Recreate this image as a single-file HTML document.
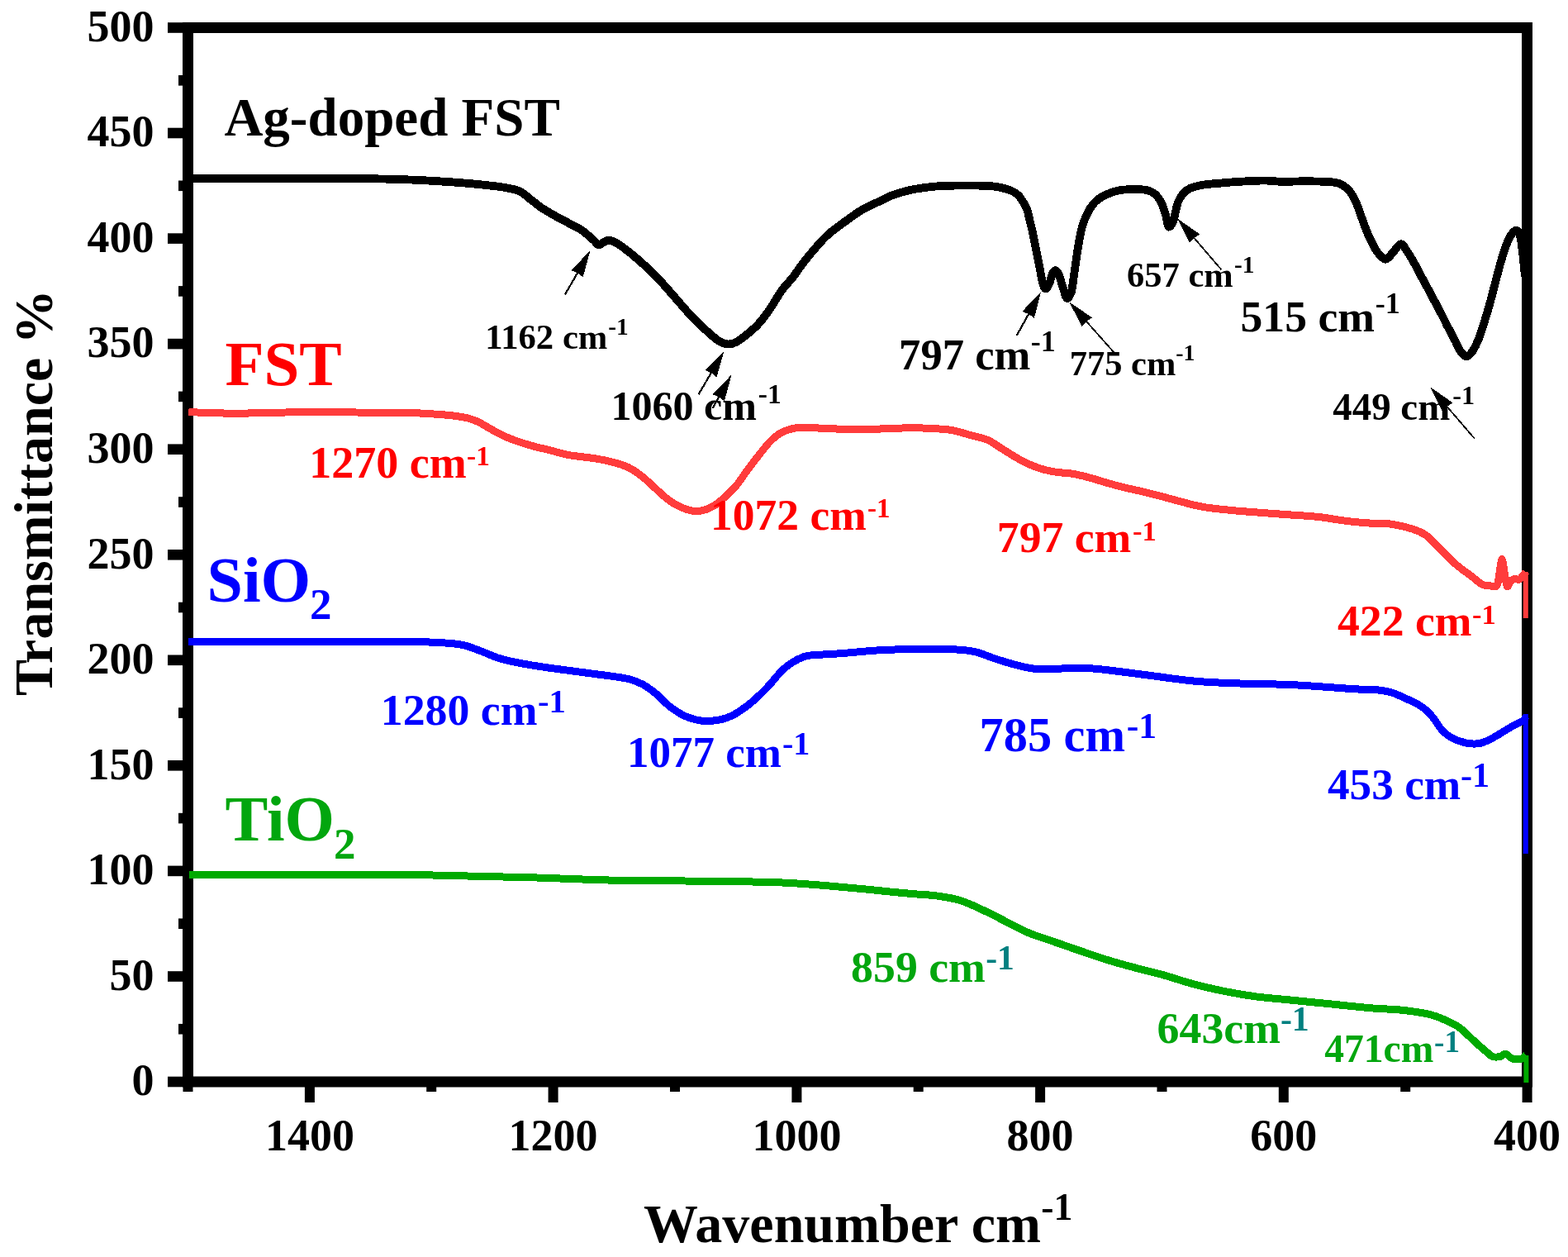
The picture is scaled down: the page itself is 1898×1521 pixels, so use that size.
<!DOCTYPE html><html><head><meta charset="utf-8"><title>FTIR spectra</title><style>html,body{margin:0;padding:0;background:#fff;}svg{display:block;}</style></head><body>
<svg width="1898" height="1521" viewBox="0 0 1898 1521">
<rect x="0" y="0" width="1898" height="1521" fill="#fff"/>
<g fill="#000"><rect x="203" y="1302.7" width="20" height="12.6"/><rect x="203" y="1175.2" width="20" height="12.6"/><rect x="203" y="1047.6" width="20" height="12.6"/><rect x="203" y="920.0" width="20" height="12.6"/><rect x="203" y="792.5" width="20" height="12.6"/><rect x="203" y="665.0" width="20" height="12.6"/><rect x="203" y="537.4" width="20" height="12.6"/><rect x="203" y="409.8" width="20" height="12.6"/><rect x="203" y="282.3" width="20" height="12.6"/><rect x="203" y="154.7" width="20" height="12.6"/><rect x="203" y="27.2" width="20" height="12.6"/><rect x="216" y="1238.9" width="7" height="12.6"/><rect x="216" y="1111.4" width="7" height="12.6"/><rect x="216" y="983.8" width="7" height="12.6"/><rect x="216" y="856.3" width="7" height="12.6"/><rect x="216" y="728.7" width="7" height="12.6"/><rect x="216" y="601.2" width="7" height="12.6"/><rect x="216" y="473.6" width="7" height="12.6"/><rect x="216" y="346.1" width="7" height="12.6"/><rect x="216" y="218.5" width="7" height="12.6"/><rect x="216" y="91.0" width="7" height="12.6"/><rect x="1842.6" y="1313" width="12" height="21"/><rect x="1547.8" y="1313" width="12" height="21"/><rect x="1253.1" y="1313" width="12" height="21"/><rect x="958.4" y="1313" width="12" height="21"/><rect x="663.6" y="1313" width="12" height="21"/><rect x="368.9" y="1313" width="12" height="21"/><rect x="1695.2" y="1313" width="12" height="8"/><rect x="1400.5" y="1313" width="12" height="8"/><rect x="1105.7" y="1313" width="12" height="8"/><rect x="811.0" y="1313" width="12" height="8"/><rect x="516.2" y="1313" width="12" height="8"/><rect x="221.5" y="1313" width="12" height="8"/></g>
<rect x="227.5" y="33.5" width="1621" height="1275.5" fill="none" stroke="#000" stroke-width="13"/>
<g font-family="'Liberation Serif', serif" font-weight="bold" font-size="54" fill="#000"><text x="186.4" y="1325.3" text-anchor="end">0</text><text x="186.4" y="1197.8" text-anchor="end">50</text><text x="186.4" y="1070.2" text-anchor="end">100</text><text x="186.4" y="942.6" text-anchor="end">150</text><text x="186.4" y="815.1" text-anchor="end">200</text><text x="186.4" y="687.5" text-anchor="end">250</text><text x="186.4" y="560.0" text-anchor="end">300</text><text x="186.4" y="432.4" text-anchor="end">350</text><text x="186.4" y="304.9" text-anchor="end">400</text><text x="186.4" y="177.3" text-anchor="end">450</text><text x="186.4" y="49.8" text-anchor="end">500</text><text x="1848.6" y="1391.5" text-anchor="middle">400</text><text x="1553.8" y="1391.5" text-anchor="middle">600</text><text x="1259.1" y="1391.5" text-anchor="middle">800</text><text x="964.4" y="1391.5" text-anchor="middle">1000</text><text x="669.6" y="1391.5" text-anchor="middle">1200</text><text x="374.9" y="1391.5" text-anchor="middle">1400</text></g>
<path d="M228.0,216.4 C245.0,216.4 296.3,216.3 330.0,216.2 C363.7,216.1 402.7,215.8 430.0,216.0 C457.3,216.2 472.8,216.6 494.0,217.4 C515.2,218.2 539.3,219.8 557.0,221.1 C574.7,222.4 590.2,224.2 600.0,225.3 C609.8,226.4 610.9,226.9 615.8,227.9 C620.7,228.9 625.1,229.4 629.5,231.6 C633.9,233.8 637.7,237.8 642.1,241.1 C646.5,244.4 650.5,248.1 655.8,251.6 C661.1,255.1 668.2,259.0 673.8,262.2 C679.4,265.4 684.7,268.0 689.6,270.6 C694.5,273.2 699.3,275.4 703.3,278.0 C707.3,280.6 711.0,284.1 713.8,286.4 C716.6,288.7 718.2,290.3 720.0,292.0 C721.8,293.7 722.7,296.1 724.3,296.4 C725.9,296.7 727.5,294.8 729.6,293.8 C731.7,292.8 734.0,290.4 737.0,290.6 C740.0,290.8 743.1,292.2 747.5,294.8 C751.9,297.4 758.0,302.2 763.3,306.4 C768.6,310.6 775.3,316.8 779.1,320.1 C782.9,323.5 783.0,323.6 786.0,326.5 C789.0,329.4 792.2,332.2 797.0,337.3 C801.8,342.4 809.4,351.2 814.8,357.4 C820.2,363.6 824.8,369.0 829.5,374.3 C834.2,379.6 838.6,384.4 843.2,389.0 C847.8,393.6 852.5,397.8 856.9,401.7 C861.3,405.6 865.7,409.8 869.6,412.2 C873.5,414.6 876.6,416.0 880.1,416.4 C883.6,416.8 887.1,415.9 890.6,414.3 C894.1,412.7 896.8,410.4 901.2,406.9 C905.6,403.4 911.9,398.6 917.0,393.2 C922.1,387.8 926.8,381.3 931.7,374.3 C936.6,367.3 941.9,357.4 946.5,351.1 C951.1,344.8 955.5,340.8 959.1,336.3 C962.7,331.8 964.7,328.4 968.0,324.0 C971.3,319.6 973.7,315.9 979.0,309.6 C984.3,303.3 993.0,292.7 1000.0,286.0 C1007.0,279.3 1014.0,274.7 1021.0,269.5 C1028.0,264.3 1035.0,259.0 1042.0,254.8 C1049.0,250.6 1056.7,247.4 1063.0,244.3 C1069.3,241.2 1074.0,238.6 1080.0,236.3 C1086.0,234.0 1092.7,232.1 1099.0,230.6 C1105.3,229.1 1111.7,228.1 1118.0,227.2 C1124.3,226.3 1130.7,225.6 1137.0,225.2 C1143.3,224.8 1148.0,224.7 1155.9,224.6 C1163.8,224.5 1176.5,224.4 1184.4,224.6 C1192.3,224.8 1197.8,224.9 1203.3,225.6 C1208.8,226.2 1213.6,227.4 1217.6,228.5 C1221.6,229.6 1224.3,230.6 1227.1,232.3 C1229.9,234.0 1232.0,235.1 1234.6,238.5 C1237.2,241.9 1240.7,247.7 1242.7,252.5 C1244.7,257.3 1245.3,262.0 1246.6,267.3 C1247.9,272.6 1249.3,278.0 1250.6,284.1 C1251.9,290.2 1253.2,297.2 1254.5,303.8 C1255.8,310.4 1257.3,317.6 1258.5,323.5 C1259.7,329.4 1260.2,335.2 1261.4,339.5 C1262.6,343.8 1263.9,349.0 1265.4,349.5 C1266.9,350.0 1268.8,345.7 1270.3,342.5 C1271.8,339.3 1272.9,333.0 1274.2,330.5 C1275.5,328.0 1276.9,327.0 1278.2,327.5 C1279.5,328.0 1280.6,329.7 1282.1,333.4 C1283.6,337.1 1285.5,344.9 1287.1,349.5 C1288.7,354.1 1289.9,360.4 1291.5,361.0 C1293.1,361.6 1295.5,357.6 1296.9,353.0 C1298.3,348.4 1298.9,339.9 1299.9,333.4 C1300.9,326.8 1301.8,320.3 1302.8,313.7 C1303.8,307.1 1304.6,300.4 1305.8,294.0 C1307.0,287.6 1308.2,280.6 1309.7,275.2 C1311.2,269.8 1312.9,265.5 1314.7,261.4 C1316.5,257.3 1318.3,253.9 1320.6,250.6 C1322.9,247.3 1325.2,244.3 1328.5,241.7 C1331.8,239.1 1335.9,236.8 1340.5,234.8 C1345.1,232.9 1351.0,230.9 1356.3,230.0 C1361.6,229.1 1366.8,229.3 1372.1,229.3 C1377.4,229.3 1383.6,229.0 1388.0,230.0 C1392.4,231.0 1395.5,232.7 1398.5,235.3 C1401.5,237.9 1403.8,241.6 1405.9,245.8 C1408.0,250.0 1409.7,255.9 1411.1,260.6 C1412.5,265.4 1412.9,272.9 1414.3,274.3 C1415.7,275.7 1418.2,271.8 1419.6,269.0 C1421.0,266.2 1421.7,261.4 1422.7,257.4 C1423.8,253.4 1424.3,248.7 1425.9,244.8 C1427.5,240.9 1429.8,237.0 1432.2,234.2 C1434.7,231.4 1436.6,229.7 1440.6,227.9 C1444.6,226.2 1450.2,224.8 1456.4,223.7 C1462.6,222.6 1470.5,222.2 1477.5,221.6 C1484.5,221.0 1489.8,220.4 1498.6,219.9 C1507.3,219.4 1521.2,218.5 1530.0,218.5 C1538.8,218.5 1542.7,219.7 1551.6,219.8 C1560.5,219.9 1572.7,219.2 1583.2,219.3 C1593.7,219.4 1607.8,219.8 1614.8,220.6 C1621.8,221.4 1622.2,222.4 1625.4,224.2 C1628.6,226.0 1631.2,228.2 1633.8,231.6 C1636.4,234.9 1638.9,239.4 1641.2,244.3 C1643.5,249.2 1645.6,255.8 1647.5,261.1 C1649.4,266.4 1650.9,271.0 1652.8,275.9 C1654.7,280.8 1656.6,285.7 1659.1,290.6 C1661.5,295.5 1664.5,301.5 1667.5,305.4 C1670.5,309.3 1674.0,313.6 1677.0,313.8 C1680.0,314.0 1682.3,309.5 1685.4,306.4 C1688.5,303.3 1692.6,295.9 1695.5,295.3 C1698.4,294.8 1700.0,299.5 1702.6,303.1 C1705.2,306.7 1708.2,311.9 1711.0,316.8 C1713.8,321.7 1716.6,327.4 1719.4,332.6 C1722.2,337.9 1725.1,343.1 1727.9,348.3 C1730.7,353.6 1733.5,358.8 1736.3,364.1 C1739.1,369.4 1741.9,374.5 1744.7,379.9 C1747.5,385.3 1750.3,391.3 1753.1,396.7 C1755.9,402.1 1759.0,407.8 1761.5,412.5 C1764.0,417.2 1765.5,422.0 1767.8,425.1 C1770.1,428.2 1772.8,431.2 1775.2,431.2 C1777.6,431.2 1780.0,428.4 1782.4,424.9 C1784.9,421.3 1787.4,416.1 1789.9,409.9 C1792.4,403.6 1795.1,394.7 1797.4,387.4 C1799.7,380.1 1801.6,373.7 1803.7,366.2 C1805.8,358.7 1807.8,350.3 1809.9,342.4 C1812.0,334.5 1814.1,326.0 1816.2,318.7 C1818.3,311.4 1820.3,304.3 1822.4,298.7 C1824.5,293.1 1826.6,288.3 1828.7,285.0 C1830.8,281.7 1833.0,278.7 1834.9,278.7 C1836.8,278.7 1838.6,280.6 1839.9,285.0 C1841.2,289.4 1842.0,296.7 1843.0,305.0 C1844.0,313.3 1845.5,330.0 1846.0,335.0" stroke="#000" fill="none" stroke-width="9.8" stroke-linejoin="round" stroke-linecap="butt" shape-rendering="crispEdges"/>
<path d="M228.4,498.6 C237.5,498.9 263.5,500.1 283.2,500.2 C302.9,500.3 321.9,499.2 346.5,499.0 C371.1,498.8 406.1,498.9 430.7,499.0 C455.3,499.1 479.1,499.2 494.0,499.5 C508.9,499.8 513.0,500.3 520.0,500.7 C527.0,501.1 530.5,501.4 535.8,501.8 C541.1,502.2 546.3,502.6 551.6,503.4 C556.9,504.1 562.8,505.1 567.4,506.3 C572.0,507.5 574.6,508.5 579.0,510.6 C583.4,512.7 588.7,516.2 593.8,519.0 C598.9,521.8 604.3,524.9 609.6,527.4 C614.9,529.9 619.3,531.6 625.4,533.7 C631.5,535.8 639.4,538.2 646.4,540.1 C653.4,542.0 660.5,543.5 667.5,545.3 C674.5,547.0 679.9,549.0 688.6,550.6 C697.4,552.2 711.4,553.4 720.0,554.8 C728.6,556.2 733.6,557.1 740.5,558.9 C747.4,560.7 754.9,562.8 761.1,565.8 C767.3,568.8 772.5,572.8 777.5,576.7 C782.5,580.6 786.6,584.9 791.2,589.0 C795.8,593.1 800.3,597.7 804.9,601.4 C809.5,605.1 813.4,608.3 818.6,611.0 C823.9,613.7 831.1,616.7 836.4,617.8 C841.6,618.9 845.5,618.7 850.1,617.8 C854.7,616.9 859.2,615.0 863.8,612.3 C868.4,609.6 872.9,605.5 877.5,601.4 C882.1,597.3 886.6,593.2 891.2,587.7 C895.8,582.2 900.3,574.7 904.9,568.5 C909.5,562.3 914.0,556.4 918.6,550.7 C923.2,545.0 927.7,538.8 932.3,534.2 C936.9,529.6 940.8,526.0 946.0,523.3 C951.2,520.6 958.1,518.8 963.8,517.8 C969.5,516.8 974.0,517.2 980.0,517.3 C986.0,517.4 988.9,518.2 1000.0,518.6 C1011.1,519.0 1029.7,519.6 1046.4,519.5 C1063.1,519.4 1086.5,518.0 1100.0,517.8 C1113.5,517.6 1118.7,518.0 1127.4,518.5 C1136.1,519.0 1144.0,519.1 1152.0,520.5 C1160.0,521.9 1168.4,524.9 1175.3,526.7 C1182.2,528.5 1188.8,530.0 1193.2,531.5 C1197.6,533.0 1197.5,533.3 1201.4,535.6 C1205.3,537.9 1210.5,541.6 1216.4,545.2 C1222.3,548.9 1230.2,554.0 1237.0,557.5 C1243.8,561.0 1250.7,564.1 1257.5,566.4 C1264.3,568.7 1271.2,570.1 1278.1,571.2 C1284.9,572.4 1291.8,572.1 1298.6,573.3 C1305.4,574.4 1312.3,576.3 1319.2,578.1 C1326.1,579.9 1332.9,582.3 1339.7,584.2 C1346.5,586.1 1352.5,587.9 1360.0,589.7 C1367.5,591.6 1376.6,593.3 1385.0,595.3 C1393.4,597.3 1402.3,599.7 1410.6,601.9 C1418.9,604.1 1427.1,606.5 1435.0,608.5 C1442.9,610.5 1447.8,612.1 1457.8,613.7 C1467.8,615.3 1483.1,616.8 1494.9,617.9 C1506.7,619.0 1517.3,619.6 1528.6,620.5 C1539.8,621.4 1551.2,622.2 1562.4,623.0 C1573.6,623.8 1584.8,624.3 1596.0,625.5 C1607.2,626.7 1619.1,629.1 1629.8,630.4 C1640.5,631.7 1651.5,632.6 1660.0,633.2 C1668.5,633.8 1674.1,633.0 1681.1,633.8 C1688.1,634.6 1695.9,636.3 1702.1,637.9 C1708.2,639.5 1713.6,641.3 1718.0,643.2 C1722.4,645.1 1725.0,646.7 1728.5,649.5 C1732.0,652.3 1735.5,656.5 1739.0,660.0 C1742.5,663.5 1746.1,667.1 1749.6,670.6 C1753.1,674.1 1756.6,678.0 1760.1,681.1 C1763.6,684.2 1767.1,686.8 1770.6,689.5 C1774.1,692.2 1777.3,694.3 1781.2,697.2 C1785.1,700.1 1790.3,705.1 1793.8,707.0 C1797.3,708.9 1799.3,708.2 1802.3,708.5 C1805.3,708.8 1809.6,711.5 1811.7,709.0 C1813.8,706.5 1813.8,699.2 1814.9,693.8 C1816.0,688.4 1817.0,676.5 1818.1,676.5 C1819.1,676.5 1820.2,688.3 1821.2,693.8 C1822.2,699.3 1823.2,708.0 1824.4,709.6 C1825.6,711.2 1827.0,704.8 1828.6,703.2 C1830.2,701.7 1832.2,700.6 1833.9,700.3 C1835.7,699.9 1837.2,702.2 1839.1,701.1 C1841.0,700.0 1844.2,695.3 1845.5,693.8 C1846.8,692.3 1846.8,692.3 1847.0,692.0" stroke="#ff3c3c" fill="none" stroke-width="9" stroke-linejoin="round" stroke-linecap="butt" shape-rendering="crispEdges"/>
<path d="M1846.8,692 L1846.8,748" stroke="#ff3c3c" stroke-width="6" fill="none"/>
<path d="M228.4,776.5 C263.7,776.5 393.1,776.7 440.0,776.7 C486.9,776.7 490.2,776.2 509.5,776.7 C528.8,777.2 544.3,778.0 555.9,779.7 C567.5,781.4 571.4,784.0 579.1,786.7 C586.8,789.4 594.6,793.4 602.3,795.9 C610.0,798.4 615.9,799.8 625.5,801.7 C635.1,803.6 648.6,805.8 660.2,807.5 C671.8,809.2 683.4,810.7 695.0,812.2 C706.6,813.8 719.0,815.3 729.8,816.8 C740.6,818.3 751.8,819.5 759.9,821.4 C768.0,823.3 772.7,825.3 778.5,828.4 C784.3,831.5 789.3,835.6 794.7,840.0 C800.1,844.4 805.1,850.6 810.9,855.0 C816.7,859.4 822.5,863.7 829.5,866.6 C836.5,869.5 844.2,872.1 852.6,872.4 C861.0,872.7 871.6,871.4 880.0,868.5 C888.4,865.6 895.5,860.7 903.2,855.0 C910.9,849.3 918.7,841.9 926.4,834.2 C934.1,826.5 941.8,815.3 949.5,808.7 C957.2,802.1 965.0,797.6 972.7,794.8 C980.4,792.0 988.2,792.7 995.9,792.0 C1003.6,791.3 1007.5,791.5 1019.1,790.6 C1030.7,789.7 1050.0,787.6 1065.5,786.7 C1081.0,785.9 1096.3,785.6 1111.8,785.5 C1127.2,785.4 1146.6,785.4 1158.2,786.0 C1169.8,786.6 1173.7,787.1 1181.4,789.0 C1189.1,790.9 1196.9,794.6 1204.6,797.1 C1212.3,799.6 1220.0,802.0 1227.7,804.0 C1235.4,806.0 1243.2,808.1 1250.9,809.1 C1258.6,810.1 1265.9,810.0 1274.1,809.8 C1282.3,809.6 1290.8,808.0 1300.0,808.0 C1309.2,808.0 1314.8,808.0 1329.5,809.5 C1344.2,811.0 1368.8,814.4 1388.5,816.9 C1408.2,819.4 1427.8,822.6 1447.5,824.3 C1467.2,826.0 1486.8,826.5 1506.5,827.2 C1526.2,827.9 1543.3,827.6 1565.6,828.7 C1587.8,829.8 1623.7,832.8 1640.0,833.8 C1656.3,834.8 1655.9,833.7 1663.2,834.4 C1670.5,835.1 1678.2,836.3 1684.0,837.8 C1689.8,839.3 1692.8,841.3 1698.0,843.6 C1703.2,845.9 1710.5,849.0 1715.3,851.7 C1720.1,854.4 1723.4,856.7 1726.9,859.8 C1730.4,862.9 1733.3,866.6 1736.2,870.3 C1739.1,874.0 1741.0,878.4 1744.3,882.0 C1747.6,885.6 1751.1,889.2 1755.9,892.0 C1760.7,894.8 1767.5,897.4 1773.3,898.7 C1779.1,900.0 1785.3,900.5 1790.7,899.6 C1796.1,898.7 1801.0,895.9 1805.8,893.5 C1810.6,891.1 1815.5,887.8 1819.7,885.3 C1824.0,882.8 1827.4,880.5 1831.3,878.4 C1835.2,876.3 1840.2,874.5 1842.9,872.6 C1845.6,870.7 1846.7,867.8 1847.5,866.8" stroke="#0000ff" fill="none" stroke-width="9" stroke-linejoin="round" stroke-linecap="butt" shape-rendering="crispEdges"/>
<path d="M1846.8,864 L1846.8,1033" stroke="#0000ff" stroke-width="6" fill="none"/>
<path d="M228.5,1058.5 C255.5,1058.5 347.1,1058.5 390.7,1058.5 C434.3,1058.5 461.9,1058.3 490.3,1058.5 C518.8,1058.7 535.3,1059.3 561.4,1059.9 C587.5,1060.5 616.9,1061.0 646.7,1061.9 C676.5,1062.8 709.7,1064.4 740.0,1065.1 C770.3,1065.8 794.1,1065.5 828.5,1066.0 C862.9,1066.5 912.1,1066.5 946.5,1068.0 C980.9,1069.5 1012.8,1072.9 1035.0,1074.8 C1057.2,1076.7 1067.9,1078.1 1080.0,1079.3 C1092.1,1080.5 1098.3,1081.0 1107.4,1081.8 C1116.5,1082.6 1125.7,1082.8 1134.8,1084.1 C1143.9,1085.4 1153.1,1086.7 1162.2,1089.5 C1171.3,1092.3 1180.5,1096.9 1189.6,1101.1 C1198.7,1105.3 1207.9,1110.2 1217.0,1114.8 C1226.1,1119.4 1235.3,1124.6 1244.4,1128.5 C1253.5,1132.4 1262.7,1134.9 1271.8,1138.1 C1280.9,1141.3 1287.8,1143.8 1299.2,1147.7 C1310.6,1151.6 1327.9,1157.6 1340.0,1161.4 C1352.1,1165.2 1360.9,1167.5 1372.0,1170.5 C1383.1,1173.5 1394.4,1175.9 1406.5,1179.3 C1418.6,1182.7 1431.8,1187.3 1444.4,1190.7 C1457.0,1194.1 1469.7,1197.0 1482.3,1199.5 C1494.9,1202.0 1507.6,1204.2 1520.3,1205.9 C1533.0,1207.6 1543.5,1208.2 1558.2,1209.7 C1573.0,1211.2 1591.9,1213.0 1608.8,1214.7 C1625.7,1216.4 1644.7,1218.5 1659.4,1219.8 C1674.2,1221.1 1685.5,1221.0 1697.3,1222.3 C1709.1,1223.6 1721.8,1225.5 1730.2,1227.4 C1738.6,1229.3 1742.1,1231.2 1747.9,1233.7 C1753.8,1236.2 1760.6,1239.5 1765.3,1242.5 C1770.0,1245.5 1772.6,1248.7 1776.2,1252.0 C1779.8,1255.3 1783.4,1258.8 1787.0,1262.1 C1790.6,1265.3 1794.7,1268.8 1797.9,1271.5 C1801.2,1274.2 1803.5,1277.2 1806.5,1278.4 C1809.5,1279.6 1813.3,1279.0 1816.0,1278.4 C1818.7,1277.9 1820.1,1274.7 1822.5,1275.1 C1824.9,1275.5 1827.3,1279.9 1830.4,1280.9 C1833.5,1281.9 1838.5,1281.9 1841.3,1281.2 C1844.1,1280.5 1846.0,1277.3 1847.0,1276.5" stroke="#00aa00" fill="none" stroke-width="9" stroke-linejoin="round" stroke-linecap="butt" shape-rendering="crispEdges"/>
<path d="M1847.4,1277 L1847.4,1310" stroke="#00aa00" stroke-width="6" fill="none"/>
<g font-family="'Liberation Serif', serif" font-weight="bold">
<text x="271.4" y="163.75" font-size="65" fill="#000">Ag-doped FST</text>
<text x="272.5" y="465.8" font-size="77" fill="#f00">FST</text>
<text x="250.5" y="728" font-size="78" fill="#00f">SiO<tspan font-size="53" x="374.9" y="748.5">2</tspan></text>
<text x="272.5" y="1016.9" font-size="77.7" fill="#02a60e">TiO<tspan font-size="53" x="403.9" y="1038.5">2</tspan></text>
<text x="587.2" y="421.9" font-size="42.7" fill="#000">1162 cm<tspan font-size="29.4" x="736.2" y="404.8" fill="#000">-1</tspan></text>
<text x="739.4" y="507.7" font-size="50.1" fill="#000">1060 cm<tspan font-size="33.6" x="917.8" y="487.7" fill="#000">-1</tspan></text>
<text x="1088.1" y="446.6" font-size="52.6" fill="#000">797 cm<tspan font-size="36.0" x="1247.7" y="424.8" fill="#000">-1</tspan></text>
<text x="1294.7" y="453.7" font-size="42.5" fill="#000">775 cm<tspan font-size="27.8" x="1423.3" y="435.8" fill="#000">-1</tspan></text>
<text x="1364.1" y="346.7" font-size="42.5" fill="#000">657 cm<tspan font-size="29.4" x="1494.0" y="329.6" fill="#000">-1</tspan></text>
<text x="1501.5" y="400.6" font-size="53.7" fill="#000">515 cm<tspan font-size="36.2" x="1664.8" y="379.1" fill="#000">-1</tspan></text>
<text x="1613.3" y="507.5" font-size="46.9" fill="#000">449 cm<tspan font-size="32.3" x="1758.2" y="488.7" fill="#000">-1</tspan></text>
<text x="374.2" y="577.9" font-size="54.0" fill="#f00">1270 cm<tspan font-size="33.3" x="565.1" y="562.7" fill="#f00">-1</tspan></text>
<text x="860.1" y="640.7" font-size="53.5" fill="#f00">1072 cm<tspan font-size="33.1" x="1050.1" y="625.7" fill="#f00">-1</tspan></text>
<text x="1206.8" y="667.7" font-size="53.7" fill="#f00">797 cm<tspan font-size="34.7" x="1371.0" y="653.8" fill="#f00">-1</tspan></text>
<text x="1619.0" y="768.7" font-size="53.7" fill="#f00">422 cm<tspan font-size="34.5" x="1781.9" y="754.8" fill="#f00">-1</tspan></text>
<text x="460.8" y="876.9" font-size="53.8" fill="#00f">1280 cm<tspan font-size="40.7" x="651.0" y="861.7" fill="#00f">-1</tspan></text>
<text x="758.9" y="927.8" font-size="53.0" fill="#00f">1077 cm<tspan font-size="40.1" x="947.0" y="913.0" fill="#00f">-1</tspan></text>
<text x="1185.6" y="908.8" font-size="58.3" fill="#00f">785 cm<tspan font-size="43.8" x="1363.7" y="893.0" fill="#00f">-1</tspan></text>
<text x="1606.9" y="966.9" font-size="53.3" fill="#00f">453 cm<tspan font-size="42.3" x="1768.0" y="951.7" fill="#00f">-1</tspan></text>
<text x="1030.1" y="1187.5" font-size="53.8" fill="#02a60e">859 cm<tspan font-size="41.6" x="1193.2" y="1173.0" fill="#008080">-1</tspan></text>
<text x="1400.6" y="1261.8" font-size="53.8" fill="#02a60e">643cm<tspan font-size="41.9" x="1549.9" y="1246.7" fill="#008080">-1</tspan></text>
<text x="1603.2" y="1285.3" font-size="47.6" fill="#02a60e">471cm<tspan font-size="37.1" x="1736.1" y="1273.0" fill="#008080">-1</tspan></text>
<text x="779.0" y="1502.9" font-size="66" fill="#000">Wavenumber cm<tspan font-size="45.7" x="1260.2" y="1475.9">-1</tspan></text>
<text transform="translate(62.9,842) rotate(-90)" x="0" y="0" font-size="66" fill="#000">Transmittance %</text>
</g>
<g shape-rendering="crispEdges"><line x1="683.9" y1="356.5" x2="699.0" y2="330.3" stroke="#000" stroke-width="2.2"/><polygon points="714.4,303.4 705.7,335.3 699.0,330.3 691.3,327.0" fill="#000"/><line x1="845.5" y1="477.3" x2="860.9" y2="451.2" stroke="#000" stroke-width="2.2"/><polygon points="876.6,424.5 867.5,456.3 860.9,451.2 853.2,447.9" fill="#000"/><line x1="862.5" y1="494.0" x2="870.2" y2="480.4" stroke="#000" stroke-width="2.2"/><polygon points="885.5,453.4 876.9,485.3 870.2,480.4 862.5,477.2" fill="#000"/><line x1="1230.7" y1="406.0" x2="1245.1" y2="380.0" stroke="#000" stroke-width="2.2"/><polygon points="1260.2,352.9 1251.9,384.9 1245.1,380.0 1237.4,376.8" fill="#000"/><line x1="1348.3" y1="426.3" x2="1315.1" y2="389.0" stroke="#000" stroke-width="1.8"/><polygon points="1294.5,365.8 1322.0,384.2 1315.1,389.0 1309.6,395.2" fill="#000"/><line x1="1478.4" y1="326.3" x2="1445.5" y2="288.0" stroke="#000" stroke-width="1.8"/><polygon points="1425.3,264.5 1452.4,283.4 1445.5,288.0 1439.9,294.2" fill="#000"/><line x1="1784.7" y1="530.5" x2="1751.5" y2="491.9" stroke="#000" stroke-width="1.8"/><polygon points="1731.3,468.4 1758.5,487.3 1751.5,491.9 1745.9,498.1" fill="#000"/></g>
</svg></body></html>
